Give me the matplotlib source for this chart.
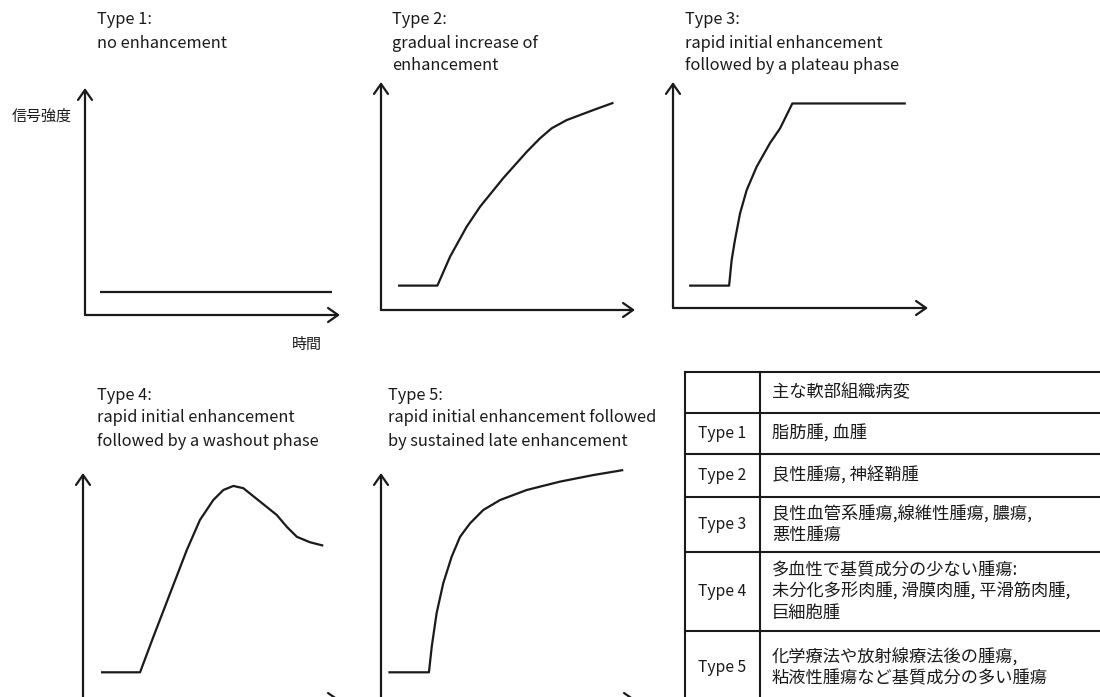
import matplotlib
matplotlib.use("Agg")
import matplotlib.pyplot as plt

plt.rcParams["font.family"] = ["Noto Sans CJK JP", "DejaVu Sans"]

W_PX, H_PX = 1100, 697

# =====================================================
# DATA (time vs. signal intensity, arbitrary units 0-100)
# =====================================================

titles = [
    ["Type 1:", "no enhancement"],
    ["Type 2:", "gradual increase of", "enhancement"],
    ["Type 3:", "rapid initial enhancement", "followed by a plateau phase"],
    ["Type 4:", "rapid initial enhancement", "followed by a washout phase"],
    ["Type 5:", "rapid initial enhancement followed", "by sustained late enhancement"],
]

type1_t = [6, 97]
type1_s = [10, 10]

type2_t = [6.7, 22.2, 27.2, 33.7, 39.0, 48.1, 57.4, 62.6, 67.2, 73.1, 83.6, 91.5]
type2_s = [10.7, 10.7, 23.4, 36.5, 45.3, 57.8, 69.4, 75.3, 79.7, 83.3, 87.7, 90.9]

type3_t = [6.3, 22.0, 23.0, 24.3, 26.3, 28.9, 32.8, 38.0, 42.0, 46.8, 91.3]
type3_s = [9.9, 9.9, 21.2, 30.1, 41.9, 52.2, 62.5, 72.9, 79.5, 90.5, 90.5]

type4_t = [7.0, 22.2, 27.4, 33.9, 40.4, 45.5, 50.7, 54.6, 58.5, 62.4, 68.9, 75.4, 79.3, 83.2, 88.3, 93.5]
type4_s = [12.2, 12.2, 27.9, 47.0, 66.1, 79.3, 88.1, 92.5, 94.3, 93.3, 87.4, 81.5, 76.3, 71.9, 69.5, 68.0]

type5_t = [2.9, 18.8, 19.9, 21.8, 24.4, 27.7, 31.0, 34.9, 40.1, 46.7, 57.1, 70.2, 83.3, 95.0]
type5_s = [12.2, 12.2, 23.5, 38.2, 51.4, 63.1, 71.9, 77.8, 83.7, 88.1, 92.5, 96.2, 99.1, 101.3]

curves = [
    (type1_t, type1_s),
    (type2_t, type2_s),
    (type3_t, type3_s),
    (type4_t, type4_s),
    (type5_t, type5_s),
]

y_label = "信号強度"
x_label = "時間"

table_header = "主な軟部組織病変"
table_types = ["Type 1", "Type 2", "Type 3", "Type 4", "Type 5"]
table_lesions = [
    "脂肪腫, 血腫",
    "良性腫瘍, 神経鞘腫",
    "良性血管系腫瘍,線維性腫瘍, 膿瘍,\n悪性腫瘍",
    "多血性で基質成分の少ない腫瘍:\n未分化多形肉腫, 滑膜肉腫, 平滑筋肉腫,\n巨細胞腫",
    "化学療法や放射線療法後の腫瘍,\n粘液性腫瘍など基質成分の多い腫瘍",
]

# =====================================================
# LAYOUT (pixels in the 1100 x 697 canvas)
# =====================================================

# left, right (arrow tip), bottom (x axis), top (arrow tip)
PANELS = [
    (85, 340, 315, 88),
    (381, 635, 310, 82),
    (673, 928, 308, 82),
    (83, 340, 700, 473),
    (381, 636, 700, 473),
]
TITLE_POS = [(97, 20), (392, 20), (685, 20), (97, 395), (388, 395)]
LINE_PITCH = 23

LW = 1.6
INK = "#1a1a1a"


def fx(px):
    return px / W_PX


def fy(py):
    return 1 - py / H_PX


fig = plt.figure(figsize=(W_PX / 100, H_PX / 100), dpi=100)
fig.patch.set_facecolor("white")

for (l, r, b, t), (tt, ss), title, (tx, ty) in zip(PANELS, curves, titles, TITLE_POS):
    ax = fig.add_axes([fx(l), fy(b), (r - l) / W_PX, (b - t) / H_PX])
    ax.set_xlim(0, 100)
    ax.set_ylim(0, 100)
    ax.axis("off")

    arrow = dict(arrowstyle="->,head_length=0.6,head_width=0.42",
                 lw=LW, color=INK, shrinkA=0, shrinkB=0,
                 mutation_scale=12)
    ax.annotate("", xy=(0, 1), xytext=(0, 0), xycoords="axes fraction",
                arrowprops=arrow, annotation_clip=False)
    ax.annotate("", xy=(1, 0), xytext=(0, 0), xycoords="axes fraction",
                arrowprops=arrow, annotation_clip=False)

    ax.plot(tt, ss, color=INK, lw=LW, clip_on=False,
            solid_joinstyle="round", solid_capstyle="butt")

    for i, line in enumerate(title):
        fig.text(fx(tx), fy(ty + i * LINE_PITCH), line, ha="left", va="center",
                 fontsize=11.8, color=INK)

fig.text(fx(12), fy(117), y_label, ha="left", va="center", fontsize=10.8, color=INK)
fig.text(fx(292), fy(345), x_label, ha="left", va="center", fontsize=10.8, color=INK)

# =====================================================
# TABLE
# =====================================================

T_LEFT, T_RIGHT, T_TOP, T_BOTTOM = 685, 1110, 372, 704
COL_DIV = 760
ROW_LINES = [372, 413, 454, 497, 552, 631, 704]

tax = fig.add_axes([fx(T_LEFT), fy(T_BOTTOM), (T_RIGHT - T_LEFT) / W_PX,
                    (T_BOTTOM - T_TOP) / H_PX])
tax.set_xlim(T_LEFT, T_RIGHT)
tax.set_ylim(T_BOTTOM, T_TOP)
tax.axis("off")

for yl in ROW_LINES[:-1]:
    tax.plot([T_LEFT, T_RIGHT], [yl, yl], color=INK, lw=1.5, clip_on=False)
for xl in [T_LEFT, COL_DIV]:
    tax.plot([xl, xl], [T_TOP, T_BOTTOM], color=INK, lw=1.5, clip_on=False)

rows_text = [("", table_header)] + list(zip(table_types, table_lesions))
for i, (typ, lesion) in enumerate(rows_text):
    yc = (ROW_LINES[i] + ROW_LINES[i + 1]) / 2
    tax.text((T_LEFT + COL_DIV) / 2, yc, typ, ha="center", va="center",
             fontsize=11.3, color=INK)
    tax.text(COL_DIV + 12, yc, lesion, ha="left", va="center",
             fontsize=12.4, color=INK, linespacing=1.2)

fig.savefig("out.png", dpi=100, facecolor="white")
